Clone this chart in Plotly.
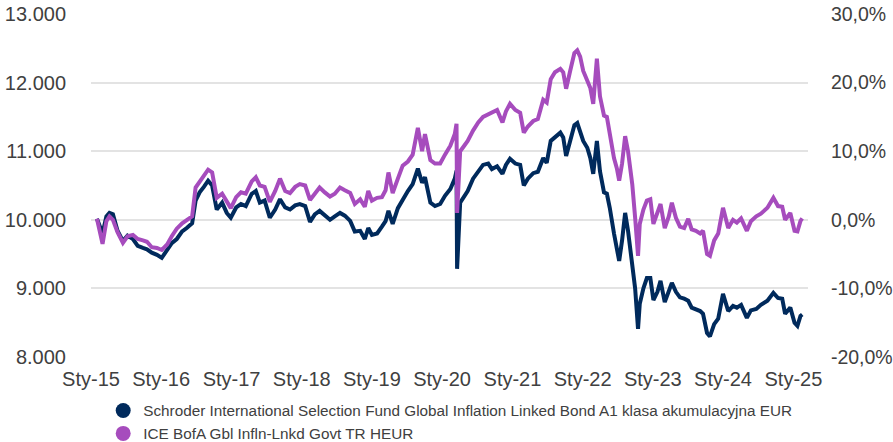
import plotly.graph_objects as go

dates = [
"2015-02-01","2015-02-15","2015-03-02","2015-03-22","2015-04-07","2015-04-25","2015-05-19","2015-06-16",
"2015-07-10","2015-08-07","2015-09-01","2015-09-28","2015-10-19","2015-11-13","2015-12-10","2016-01-04",
"2016-02-01","2016-02-25","2016-03-22","2016-04-19","2016-05-13","2016-06-10","2016-06-28","2016-07-19",
"2016-08-10","2016-09-01","2016-09-22","2016-10-16","2016-11-13","2016-12-07","2016-12-28","2017-01-25",
"2017-02-19","2017-03-16","2017-04-16","2017-05-07","2017-05-28","2017-06-22","2017-07-19","2017-08-16",
"2017-09-10","2017-10-07","2017-11-01","2017-11-28","2017-12-22","2018-01-19","2018-02-13","2018-03-10",
"2018-04-04","2018-05-01","2018-05-28","2018-06-22","2018-07-19","2018-08-13","2018-09-10","2018-10-04",
"2018-11-01","2018-11-25","2018-12-13","2019-01-01","2019-01-28","2019-02-22","2019-03-13","2019-03-28",
"2019-04-19","2019-05-16","2019-06-10","2019-07-07","2019-08-01","2019-08-28","2019-09-19","2019-10-04",
"2019-11-01","2019-11-25","2019-12-22","2020-01-16","2020-02-13","2020-03-07","2020-03-16","2020-03-19",
"2020-04-04","2020-04-25","2020-05-13","2020-06-10","2020-07-07","2020-08-01","2020-08-28","2020-09-16",
"2020-10-13","2020-11-10","2020-11-28","2020-12-19","2021-01-16","2021-02-10","2021-03-01","2021-03-22",
"2021-04-19","2021-05-13","2021-06-10","2021-06-28","2021-07-19","2021-08-10","2021-09-07","2021-09-22",
"2021-10-07","2021-10-28","2021-11-19","2021-12-04","2021-12-19","2022-01-04","2022-01-25","2022-02-10",
"2022-02-25","2022-03-16","2022-04-01","2022-04-22","2022-05-07","2022-05-22","2022-06-13","2022-06-28",
"2022-07-10","2022-07-25","2022-08-10","2022-08-25","2022-09-16","2022-10-01","2022-10-16","2022-10-25",
"2022-11-13","2022-12-01","2022-12-19","2023-01-04","2023-01-25","2023-02-10","2023-03-04","2023-03-25",
"2023-04-10","2023-05-01","2023-05-22","2023-06-13","2023-07-04","2023-07-22","2023-08-13","2023-09-04",
"2023-09-19","2023-10-10","2023-10-25","2023-11-16","2023-12-07","2024-01-01","2024-01-28","2024-02-22",
"2024-03-13","2024-04-04","2024-05-04","2024-05-25","2024-06-22","2024-07-16","2024-08-19","2024-09-19",
"2024-10-13","2024-11-04","2024-11-19","2024-12-16","2025-01-07","2025-01-22","2025-02-07","2025-02-16",
]

fund = [
10015,9900,9800,10050,10100,10080,9840,9690,
9770,9720,9620,9590,9570,9520,9490,9445,
9560,9660,9720,9830,9880,9950,10280,10400,
10480,10570,10500,10150,10250,10100,10030,10180,
10230,10200,10380,10420,10250,10280,10030,10150,
10300,10180,10150,10210,10230,10200,9970,10080,
10130,10060,10000,10050,10100,10060,9985,9830,
9840,9720,9880,9780,9800,9900,9980,10130,
9940,10170,10300,10420,10520,10745,10540,10620,
10250,10200,10230,10350,10450,10600,10715,9285,
10250,10350,10420,10600,10700,10800,10820,10740,
10780,10670,10800,10890,10820,10800,10500,10600,
10680,10700,10900,10830,11150,11200,11270,11200,
10930,11150,11380,11410,11300,11150,11050,10900,
10670,11150,10710,10400,10380,10175,9800,9600,
9400,9700,10100,9840,9360,9000,8410,8775,
9000,9150,9150,8830,8950,9110,8800,8950,
9080,8950,8870,8850,8820,8720,8700,8670,
8630,8350,8300,8480,8560,8920,8670,8745,
8720,8760,8570,8680,8700,8760,8820,8935,
8860,8850,8630,8720,8500,8455,8600,8620,
]

benchmark = [
10015,9800,9650,9980,10050,10000,9820,9665,
9760,9780,9720,9700,9680,9600,9590,9560,
9640,9760,9870,9950,10000,10050,10470,10560,
10650,10730,10690,10320,10380,10270,10170,10330,
10400,10380,10560,10620,10500,10480,10260,10420,
10600,10420,10390,10480,10520,10500,10290,10380,
10470,10400,10340,10380,10470,10430,10390,10230,
10300,10190,10420,10280,10320,10330,10430,10690,
10390,10600,10790,10850,10950,11340,11000,11250,
10870,10820,10820,10950,11080,11250,11400,10100,
11000,11080,11150,11300,11420,11500,11540,11560,
11600,11420,11580,11690,11600,11560,11270,11360,
11440,11470,11750,11710,12050,12150,12200,12150,
11910,12170,12430,12470,12380,12170,12030,11920,
11690,12350,11800,11520,11500,11250,10900,10750,
10570,10820,11220,11000,10520,10030,9475,9940,
10150,10280,10300,9940,10100,10230,9880,10050,
10250,10030,9900,9880,10015,9860,9840,9800,
9840,9500,9475,9700,9800,10175,9880,10000,
9960,10020,9840,9980,10050,10090,10175,10320,
10200,10190,10000,10100,9840,9830,9985,10020,
]

series_names = [
    "Schroder International Selection Fund Global Inflation Linked Bond A1 klasa akumulacyjna EUR",
    "ICE BofA Gbl Infln-Lnkd Govt TR HEUR",
]
series_colors = ["#002a5c", "#a64cbd"]

x_tick_vals = ["2015-01-01","2016-01-01","2017-01-01","2018-01-01","2019-01-01","2020-01-01",
               "2021-01-01","2022-01-01","2023-01-01","2024-01-01","2025-01-01"]
x_tick_text = ["Sty-15","Sty-16","Sty-17","Sty-18","Sty-19","Sty-20","Sty-21","Sty-22","Sty-23","Sty-24","Sty-25"]
y_left_ticks = [8000, 9000, 10000, 11000, 12000, 13000]
y_right_ticks = [-0.2, -0.1, 0.0, 0.1, 0.2, 0.3]
y_right_text = ["-20,0%", "-10,0%", "0,0%", "10,0%", "20,0%", "30,0%"]

FONT = "Arial, Liberation Sans, sans-serif"
TXT = "#404040"

fig = go.Figure()
for vals, name, col in zip([fund, benchmark], series_names, series_colors):
    fig.add_trace(go.Scatter(x=dates, y=vals, mode="lines", name=name,
                             line=dict(color=col, width=4), showlegend=False))
for name, col in zip(series_names, series_colors):
    fig.add_trace(go.Scatter(x=[None], y=[None], mode="markers", name=name,
                             marker=dict(color=col, size=15, symbol="circle")))
fig.add_trace(go.Scatter(x=[dates[0]], y=[None], yaxis="y2", mode="lines",
                         showlegend=False, hoverinfo="skip"))

fig.update_layout(
    width=893, height=442,
    margin=dict(l=91, r=85, t=14, b=85, autoexpand=False),
    paper_bgcolor="white", plot_bgcolor="white",
    separators=",.",
    font=dict(family=FONT, size=20, color=TXT),
    xaxis=dict(type="date", range=["2015-01-01", "2025-03-18"],
               tickvals=x_tick_vals, ticktext=x_tick_text, automargin=False,
               showgrid=False, zeroline=False, showline=False,
               ticks="outside", ticklen=4, tickcolor="rgba(0,0,0,0)",
               ticklabeloverflow="allow",
               tickfont=dict(size=20, color=TXT)),
    yaxis=dict(range=[8000, 13000], tickvals=y_left_ticks, tickformat=",d", automargin=False,
               showgrid=True, gridcolor="#e3e3e3", gridwidth=2, zeroline=False,
               ticks="outside", ticklen=20, tickcolor="rgba(0,0,0,0)",
               ticklabeloverflow="allow",
               tickfont=dict(size=20, color=TXT)),
    yaxis2=dict(range=[-0.2, 0.3], overlaying="y", side="right", automargin=False,
                tickvals=y_right_ticks, ticktext=y_right_text,
                showgrid=False, zeroline=False,
                ticks="outside", ticklen=18, tickcolor="rgba(0,0,0,0)",
                ticklabeloverflow="allow",
                tickfont=dict(size=19.5, color=TXT)),
    legend=dict(x=0.017, y=-0.108, xanchor="left", yanchor="top",
                font=dict(family=FONT, size=15.3, color=TXT),
                tracegroupgap=0, itemwidth=30, bgcolor="rgba(0,0,0,0)"),
    showlegend=True,
)

fig.write_html("out.html", config={"displayModeBar": False},
               post_script="document.body.style.margin='0';document.body.style.overflow='hidden';")
